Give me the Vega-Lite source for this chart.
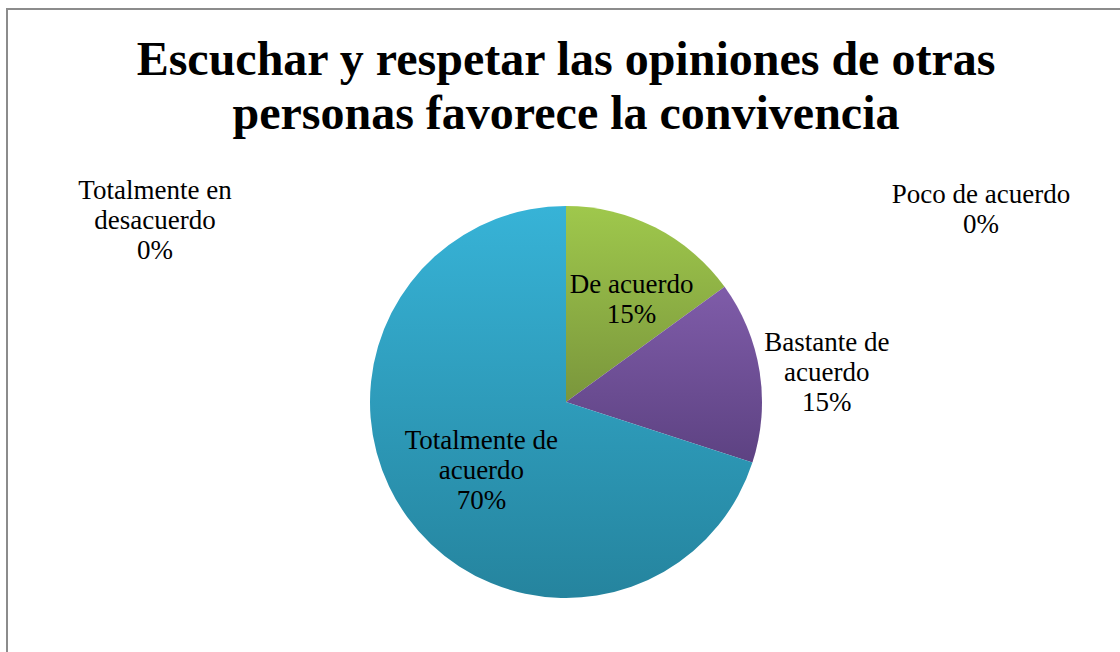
{
  "$schema": "https://vega.github.io/schema/vega-lite/v6.json",
  "width": 1120,
  "height": 652,
  "autosize": {"type": "fit", "contains": "padding"},
  "padding": {"left": 7, "top": 9, "right": -5, "bottom": -143},
  "background": "white",
  "view": {"stroke": "#8c8c8c", "strokeWidth": 2},
  "title": {
    "text": ["Escuchar y respetar las opiniones de otras", "personas favorece la convivencia"],
    "font": "Liberation Serif",
    "fontSize": 48,
    "fontWeight": "bold",
    "color": "#000000",
    "lineHeight": 54,
    "anchor": "middle",
    "frame": "group",
    "baseline": "bottom",
    "offset": -178
  },
  "data": {
    "values": [
      {"categoria": "Totalmente en desacuerdo", "valor": 0, "orden": 1, "etiqueta": ["Totalmente en", "desacuerdo", "0%"]},
      {"categoria": "Poco de acuerdo", "valor": 0, "orden": 2, "etiqueta": ["Poco de acuerdo", "0%"]},
      {"categoria": "De acuerdo", "valor": 15, "orden": 3, "etiqueta": ["De acuerdo", "15%"]},
      {"categoria": "Bastante de acuerdo", "valor": 15, "orden": 4, "etiqueta": ["Bastante de", "acuerdo", "15%"]},
      {"categoria": "Totalmente de acuerdo", "valor": 70, "orden": 5, "etiqueta": ["Totalmente de", "acuerdo", "70%"]}
    ]
  },
  "encoding": {
    "theta": {"field": "valor", "type": "quantitative", "stack": true},
    "order": {"field": "orden", "type": "quantitative"}
  },
  "layer": [
    {
      "mark": {"type": "arc", "outerRadius": 196, "strokeWidth": 0,
        "color": {"gradient": "linear", "x1": 0, "y1": 0, "x2": 0, "y2": 1, "stops": [{"offset": 0, "color": "#9fc84c"}, {"offset": 1, "color": "#7a963c"}]}},
      "encoding": {"opacity": {"condition": {"test": "datum.categoria === 'De acuerdo'", "value": 1}, "value": 0}}
    },
    {
      "mark": {"type": "arc", "outerRadius": 196, "strokeWidth": 0,
        "color": {"gradient": "linear", "x1": 0, "y1": 0, "x2": 0, "y2": 1, "stops": [{"offset": 0, "color": "#7f5ca9"}, {"offset": 1, "color": "#5d4282"}]}},
      "encoding": {"opacity": {"condition": {"test": "datum.categoria === 'Bastante de acuerdo'", "value": 1}, "value": 0}}
    },
    {
      "mark": {"type": "arc", "outerRadius": 196, "strokeWidth": 0,
        "color": {"gradient": "linear", "x1": 0, "y1": 0, "x2": 0, "y2": 1, "stops": [{"offset": 0, "color": "#37b3d7"}, {"offset": 1, "color": "#25849e"}]}},
      "encoding": {"opacity": {"condition": {"test": "datum.categoria === 'Totalmente de acuerdo'", "value": 1}, "value": 0}}
    },
    {
      "mark": {"type": "text", "radius": 118, "dx": 12, "dy": -12, "font": "Liberation Serif", "fontSize": 27, "lineHeight": 30, "align": "center", "baseline": "middle", "color": "#000000"},
      "encoding": {"text": {"condition": {"test": "datum.categoria === 'De acuerdo'", "field": "etiqueta"}, "value": ""}}
    },
    {
      "mark": {"type": "text", "radius": 262, "dx": 2, "dy": -18, "font": "Liberation Serif", "fontSize": 27, "lineHeight": 30, "align": "center", "baseline": "middle", "color": "#000000"},
      "encoding": {"text": {"condition": {"test": "datum.categoria === 'Bastante de acuerdo'", "field": "etiqueta"}, "value": ""}}
    },
    {
      "mark": {"type": "text", "radius": 112, "dx": 6, "dy": -27, "font": "Liberation Serif", "fontSize": 27, "lineHeight": 30, "align": "center", "baseline": "middle", "color": "#000000"},
      "encoding": {"text": {"condition": {"test": "datum.categoria === 'Totalmente de acuerdo'", "field": "etiqueta"}, "value": ""}}
    },
    {
      "transform": [{"filter": "datum.categoria === 'Totalmente en desacuerdo'"}],
      "mark": {"type": "text", "radius": 196, "dx": -411, "dy": -15, "font": "Liberation Serif", "fontSize": 27, "lineHeight": 30, "align": "center", "baseline": "middle", "color": "#000000"},
      "encoding": {"text": {"field": "etiqueta"}}
    },
    {
      "transform": [{"filter": "datum.categoria === 'Poco de acuerdo'"}],
      "mark": {"type": "text", "radius": 196, "dx": 415, "dy": -11, "font": "Liberation Serif", "fontSize": 27, "lineHeight": 30, "align": "center", "baseline": "middle", "color": "#000000"},
      "encoding": {"text": {"field": "etiqueta"}}
    }
  ]
}
